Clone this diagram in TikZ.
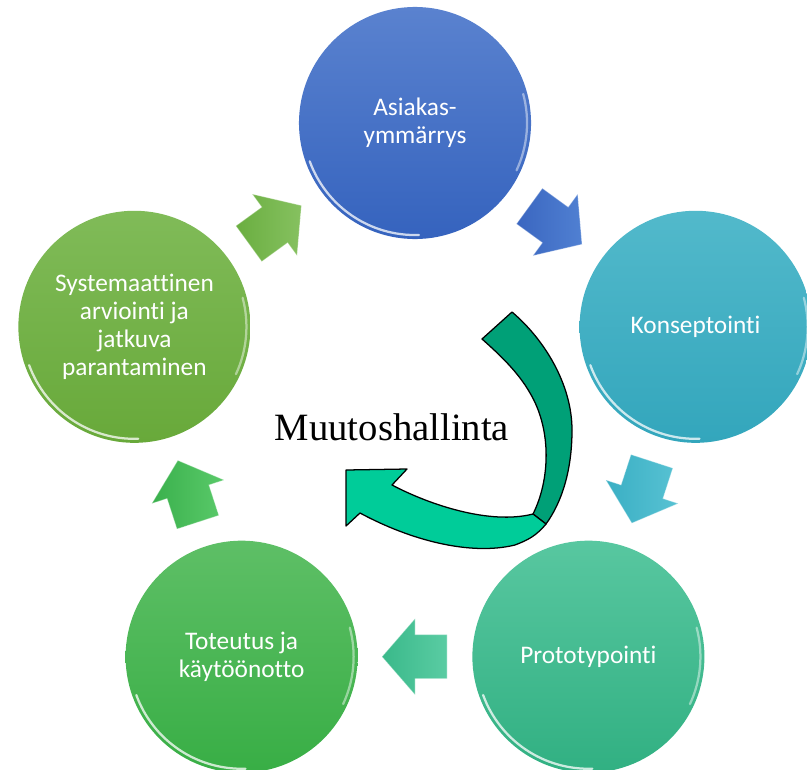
\documentclass[tikz,border=0pt]{standalone}
\usepackage{fontspec}
\setmainfont{Carlito}[Ligatures=NoCommon]
\newfontfamily\timesfont{Liberation Serif}
\usetikzlibrary{calc}

\definecolor{topA}{HTML}{5A82CF}\definecolor{topB}{HTML}{3563BE}
\definecolor{rgtA}{HTML}{52B9CB}\definecolor{rgtB}{HTML}{33A6BC}
\definecolor{brA}{HTML}{58C7A0}\definecolor{brB}{HTML}{31B082}
\definecolor{blA}{HTML}{5EBF66}\definecolor{blB}{HTML}{38AE45}
\definecolor{lftA}{HTML}{80BB58}\definecolor{lftB}{HTML}{68A93A}
\definecolor{arBlueA}{HTML}{5080D2}\definecolor{arBlueB}{HTML}{3A66C0}
\definecolor{arTealA}{HTML}{58C2D3}\definecolor{arTealB}{HTML}{3AAFC4}
\definecolor{arBrA}{HTML}{5ACCA3}\definecolor{arBrB}{HTML}{3AB98A}
\definecolor{arBlA}{HTML}{5ACA6A}\definecolor{arBlB}{HTML}{3AB04C}
\definecolor{arLfA}{HTML}{86C160}\definecolor{arLfB}{HTML}{6AAE40}
\definecolor{mdark}{HTML}{00A077}
\definecolor{mlight}{HTML}{00CC99}

\tikzset{
  stage/.style={circle, minimum size=5.8cm, inner sep=0pt, align=center,
    text=white, font=\fontsize{18}{19.8}\selectfont},
  gloss/.style={white, line width=1.6pt, opacity=.75, line cap=round},
  cyc/.style={draw=white, draw opacity=.35, line width=.6pt, line join=miter},
  ribbon/.style={draw=black, line width=.9pt, line join=round}
}
\newcommand\cyclearrow[4]{%
  \begin{scope}[shift={#1}, rotate=#2]
    \path[cyc, left color=#4, right color=#3]
      (-32,-22) -- (0,-22) -- (0,-38) -- (33,0) -- (0,38) -- (0,22) -- (-32,22) -- cycle;
  \end{scope}}
\newcommand\glossarc[1]{%
  \draw[gloss] ([shift={(200:2.8cm)}]#1.center) arc[start angle=200, end angle=272, radius=2.8cm];
  \draw[gloss, opacity=.45] ([shift={(-25:2.8cm)}]#1.center) arc[start angle=-25, end angle=15, radius=2.8cm];}

\begin{document}
\begin{tikzpicture}[x=0.025cm, y=-0.025cm]
\useasboundingbox (0,0) rectangle (807,769);

% stages
\node[stage, top color=topA, bottom color=topB] (c1) at (415,123) {Asiakas-\\ymmärrys};
\node[stage, top color=rgtA, bottom color=rgtB] (c2) at (695.6,326.8) {Konseptointi};
\node[stage, top color=brA, bottom color=brB] (c3) at (588.4,656.7) {Prototypointi};
\node[stage, top color=blA, bottom color=blB] (c4) at (241.6,656.7) {Toteutus ja\\käytöönotto};
\node[stage, top color=lftA, bottom color=lftB] (c5) at (134.4,326.8) {Systemaattinen\\arviointi ja\\jatkuva\\parantaminen};

\glossarc{c1}\glossarc{c2}\glossarc{c3}\glossarc{c4}\glossarc{c5}

% cycle arrows
\cyclearrow{($(c1)!0.5!(c2)$)}{-36}{arBlueA}{arBlueB}
\cyclearrow{($(c2)!0.5!(c3)$)}{-108}{arTealA}{arTealB}
\cyclearrow{($(c3)!0.5!(c4)$)}{180}{arBrA}{arBrB}
\cyclearrow{($(c4)!0.5!(c5)$)}{108}{arBlA}{arBlB}
\cyclearrow{($(c5)!0.5!(c1)$)}{36}{arLfA}{arLfB}

% curved arrow (Muutoshallinta)
\filldraw[ribbon, fill=mdark]
  (482,339) -- (512,312) .. controls (545,340) and (572,385) .. (572,430)
  .. controls (572,470) and (562,502) .. (546,524) -- (533,514)
  .. controls (550,480) and (552,430) .. (530,393)
  .. controls (518,372) and (500,355) .. (482,339) -- cycle;
\filldraw[ribbon, fill=mlight]
  (546,524) .. controls (536,536) and (528,540) .. (515,545)
  .. controls (470,556) and (410,540) .. (360,513)
  -- (346,526) -- (346,470) -- (407,469) -- (392,485)
  .. controls (430,505) and (490,525) .. (533,514) -- cycle;

\node[font=\timesfont\fontsize{27.5}{30}\selectfont, anchor=base, inner sep=0pt] (mt) at (392,440) {Muutoshallinta};
\end{tikzpicture}
\end{document}
